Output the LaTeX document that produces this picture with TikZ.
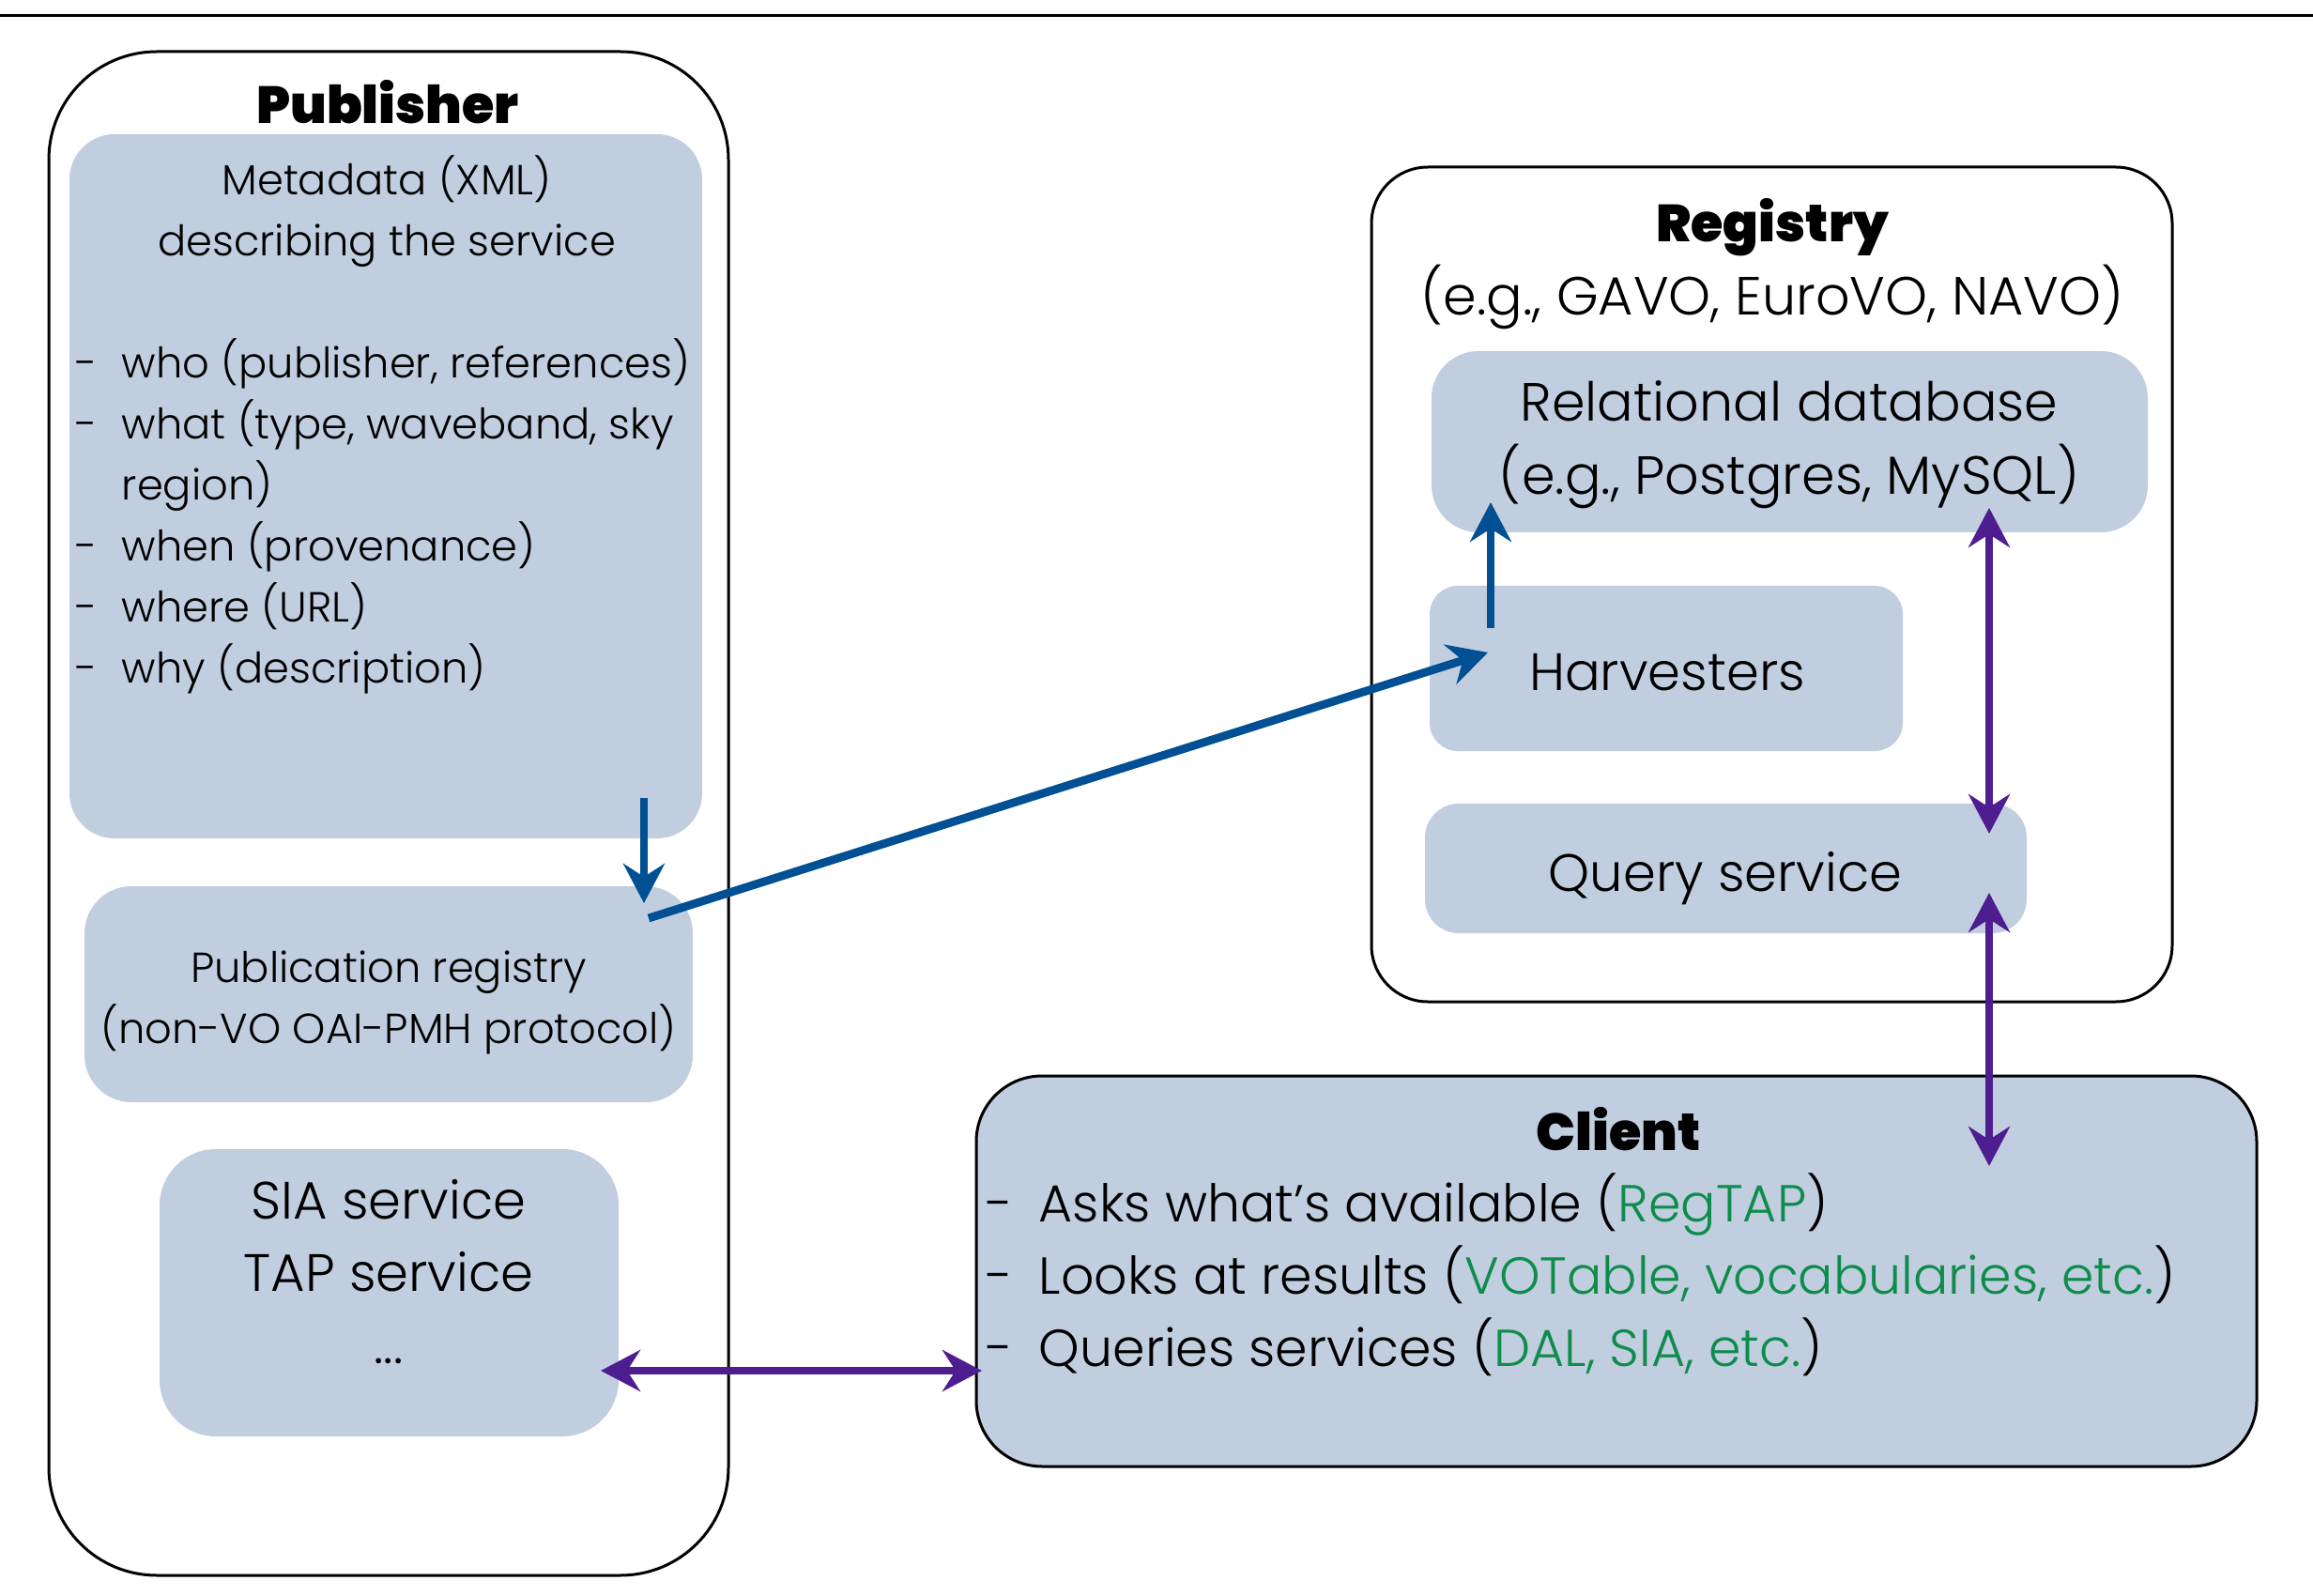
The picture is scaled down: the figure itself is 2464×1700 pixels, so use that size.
\documentclass[tikz,border=0pt]{standalone}
\usepackage{fontspec}
\setmainfont{Poppins}[UprightFont=* Light, BoldFont=* Black]
\usetikzlibrary{arrows.meta,fit}
\definecolor{boxfill}{RGB}{193,206,223}
\definecolor{arrblue}{RGB}{0,80,147}
\definecolor{arrpurple}{RGB}{78,30,145}
\definecolor{linkgreen}{RGB}{14,140,75}
\begin{document}
\begin{tikzpicture}[x=0.25pt,y=-0.25pt,
  outerbox/.style={draw=black,line width=0.75pt,inner sep=0pt},
  innerbox/.style={fill=boxfill,draw=none,inner sep=0pt},
  small/.style={inner sep=0pt,font=\fontsize{11.2}{14}\selectfont,anchor=mid},
  smallw/.style={small,anchor=mid west},
  big/.style={inner sep=0pt,font=\fontsize{14}{17}\selectfont,anchor=mid},
  bigr/.style={inner sep=0pt,font=\fontsize{14.3}{17}\selectfont,anchor=mid},
  bigw/.style={inner sep=0pt,font=\fontsize{13.85}{17}\selectfont,anchor=mid west},
  title/.style={inner sep=0pt,font=\fontsize{13.9}{17}\selectfont\bfseries,anchor=mid},
  tipshape/.tip={Stealth[length=10.5pt,width=11pt,inset=3.5pt]},
  flow/.style={draw=arrblue,line width=2.2pt,-tipshape},
  twoway/.style={draw=arrpurple,line width=2.1pt,tipshape-tipshape},
]
\useasboundingbox (0,0) rectangle (2464,1700);
% top rule
\coordinate (topL) at (0,17);
\coordinate (topR) at (2464,17);
\draw[line width=0.75pt] (topL) -- (topR);

% Publisher
\node[outerbox,rounded corners=28.75pt,fit={(52,55) (776,1678)}] (pub) {};
\node[title] (pubt) at (413,121) {Publisher};
\node[innerbox,rounded corners=12pt,fit={(74,143) (748,893)}] (meta) {};
\node[small] (m1) at (412,197) {Metadata (XML)};
\node[small] (m2) at (412,262) {describing the service};
\foreach \i/\yy/\t in {3/392/{who (publisher, references)},4/457/{what (type, waveband, sky},6/587/{when (provenance)},7/652/{where (URL)},8/717/{why (description)}}{
  \node[smallw] (d\i) at (80,\yy) {-};
  \node[smallw] (m\i) at (129,\yy) {\t};
}
\node[smallw] (m5) at (129,522) {region)};
\node[innerbox,rounded corners=12.5pt,fit={(90,944) (738,1174)}] (preg) {};
\node[small] (p1) at (414,1036) {Publication registry};
\node[small] (p2) at (414,1101) {(non-VO OAI-PMH protocol)};
\node[innerbox,rounded corners=15pt,fit={(170,1224) (659,1530)}] (sia) {};
\node[big] (s1) at (414,1288) {SIA service};
\node[big] (s2) at (414,1365) {TAP service};
\node[big] (s3) at (414,1442) {...};

% Registry
\node[outerbox,rounded corners=15pt,fit={(1461,178) (2314,1067)}] (reg) {};
\node[title] (regt) at (1888,247) {Registry};
\node[bigr] (regs) at (1888,325) {(e.g., GAVO, EuroVO, NAVO)};
\node[innerbox,rounded corners=12.5pt,fit={(1525,374) (2288,567)}] (db) {};
\node[bigr] (db1) at (1906,438) {Relational database};
\node[bigr] (db2) at (1906,516) {(e.g., Postgres, MySQL)};
\node[innerbox,rounded corners=7.5pt,fit={(1523,624) (2027,800)}] (harv) {};
\node[big] (harvt) at (1776,725) {Harvesters};
\node[innerbox,rounded corners=9pt,fit={(1518,856) (2159,994)}] (qs) {};
\node[big] (qst) at (1838,939) {Query service};

% Client
\node[outerbox,fill=boxfill,rounded corners=17.5pt,fit={(1040,1146) (2404,1562)}] (cli) {};
\node[title] (clit) at (1724,1215) {Client};
\node[bigw] (cd1) at (1050,1291) {-};
\node[bigw] (c1) at (1106,1291) {Asks what’s available (\textcolor{linkgreen}{RegTAP})};
\node[bigw] (cd2) at (1050,1368) {-};
\node[bigw] (c2) at (1106,1368) {Looks at results (\textcolor{linkgreen}{VOTable, vocabularies, etc.})};
\node[bigw] (cd3) at (1050,1445) {-};
\node[bigw] (c3) at (1106,1445) {Queries services (\textcolor{linkgreen}{DAL, SIA, etc.})};

% connector end points
\coordinate (a1s) at (686,850);
\coordinate (a1e) at (686,962);
\coordinate (a2s) at (691,978);
\coordinate (a2e) at (1585,695);
\coordinate (a3s) at (1588,669);
\coordinate (a3e) at (1588,535);
\coordinate (b1s) at (2119,541);
\coordinate (b1e) at (2119,888);
\coordinate (b2s) at (2119,951);
\coordinate (b2e) at (2119,1242);
\coordinate (b3s) at (640,1460);
\coordinate (b3e) at (1046,1460);

\draw[flow] (a1s) -- (a1e);
\draw[flow] (a2s) -- (a2e);
\draw[flow] (a3s) -- (a3e);
\draw[twoway] (b1s) -- (b1e);
\draw[twoway] (b2s) -- (b2e);
\draw[twoway] (b3s) -- (b3e);
\end{tikzpicture}
\end{document}
